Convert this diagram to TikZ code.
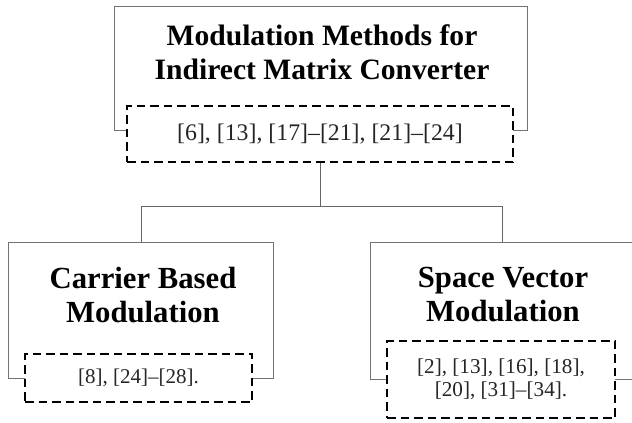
\documentclass[tikz,border=0pt]{standalone}
\usepackage{fontspec}
\setmainfont{Liberation Serif}
\begin{document}
\begin{tikzpicture}[x=1pt,y=-1pt,
  outerbox/.style={draw=black!55,line width=0.9pt,rectangle,inner sep=0pt,anchor=north west},
  titletext/.style={inner sep=0pt,anchor=north,align=center,font=\bfseries},
  citebox/.style={draw=black,fill=white,line width=1.9pt,dash pattern=on 8.5pt off 5pt,rectangle,inner sep=0pt,align=center,text=black!85},
  conn/.style={draw=black!60,line width=0.9pt}]
\useasboundingbox (0,0) rectangle (632,423);
\clip (0,0) rectangle (632,423);
% outer frames
\node[outerbox,minimum width=413pt,minimum height=124pt] (topbox) at (114,6) {};
\node[outerbox,minimum width=265pt,minimum height=136pt] (leftbox) at (8,242) {};
\node[outerbox,minimum width=264pt,minimum height=137pt] (rightbox) at (370,242) {};
% titles
\node[titletext,font=\fontsize{29.6}{34}\selectfont\bfseries] (toptitle) at (322,24) {Modulation Methods for\\Indirect Matrix Converter};
\node[titletext,font=\fontsize{30.7}{33.5}\selectfont\bfseries] (lefttitle) at (143,267) {Carrier Based\\Modulation};
\node[titletext,font=\fontsize{30.7}{33.5}\selectfont\bfseries] (righttitle) at (503,267) {Space Vector\\Modulation};
% citation boxes
\node[citebox,minimum width=386pt,minimum height=56pt,font=\fontsize{23.8}{26}\selectfont] (topcite) at (320,134) {[6], [13], [17]–[21], [21]–[24]};
\node[citebox,minimum width=227pt,minimum height=48pt,font=\fontsize{21}{23}\selectfont] (leftcite) at (138.5,378) {[8], [24]–[28].};
\node[citebox,minimum width=228pt,minimum height=77pt,font=\fontsize{21.2}{22.7}\selectfont] (rightcite) at (501,379.5) {[2], [13], [16], [18],\\\relax [20], [31]–[34].};
% connectors
\coordinate (junction) at (320,206);
\draw[conn] (topcite.south) -- (junction);
\draw[conn] (junction) -| (leftbox.north);
\draw[conn] (junction) -| (rightbox.north);
\end{tikzpicture}
\end{document}
